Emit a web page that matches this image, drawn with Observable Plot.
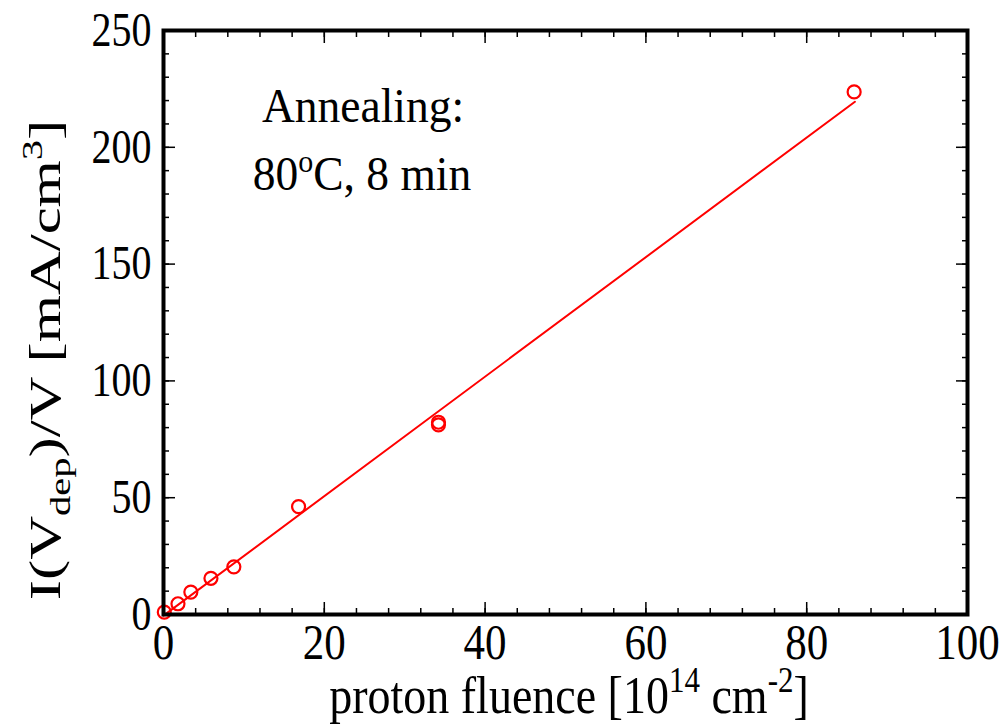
<!DOCTYPE html>
<html>
<head>
<meta charset="utf-8">
<script src="https://cdn.jsdelivr.net/npm/d3@7"></script>
<script src="https://cdn.jsdelivr.net/npm/@observablehq/plot@0.6"></script>
<style>
  html, body { margin: 0; padding: 0; background: white; }
  #chart { width: 1004px; height: 725px; }
</style>
</head>
<body>
<div id="chart"></div>
<script>
// Measured points
const fluence = [0.1, 1.8, 3.4, 5.9, 8.75, 16.8, 34.2, 34.2, 85.9];
const current = [1.0, 4.6, 9.6, 15.5, 20.4, 46.2, 82.3, 81.2, 223.7];
// Linear fit line endpoints
const fitFluence = [0, 86];
const fitCurrent = [-0.5, 219.5];
// Tick labels
const xTicks = [0, 20, 40, 60, 80, 100];
const yTicks = [0, 50, 100, 150, 200, 250];
const xMinorTicks = d3.range(0, 101, 4);
const yMinorTicks = d3.range(0, 251, 10);

const points = fluence.map((f, i) => ({f, c: current[i]}));
const fit = fitFluence.map((f, i) => ({f, c: fitCurrent[i]}));

const font = "'Liberation Serif', 'Times New Roman', serif";

const tickAxes = [];
for (const anchor of ["bottom", "top"]) {
  tickAxes.push(Plot.axisX({anchor, ticks: xMinorTicks, tickSize: -6, tickFormat: () => "", label: null, strokeWidth: 1.5}));
  tickAxes.push(Plot.axisX({anchor, ticks: xTicks, tickSize: -12, tickFormat: () => "", label: null, strokeWidth: 1.5}));
}
for (const anchor of ["left", "right"]) {
  tickAxes.push(Plot.axisY({anchor, ticks: yMinorTicks, tickSize: -6, tickFormat: () => "", label: null, strokeWidth: 1.5}));
  tickAxes.push(Plot.axisY({anchor, ticks: yTicks, tickSize: -12, tickFormat: () => "", label: null, strokeWidth: 1.5}));
}

const chart = Plot.plot({
  width: 1004,
  height: 725,
  marginLeft: 163,
  marginRight: 37,
  marginTop: 30,
  marginBottom: 111,
  style: {fontFamily: font, fontSize: "42px", color: "black", background: "white", overflow: "visible"},
  x: {domain: [0, 100]},
  y: {domain: [0, 250]},
  marks: [
    Plot.line(fit, {x: "f", y: "c", stroke: "#ff0000", strokeWidth: 2}),
    Plot.dot(points, {x: "f", y: "c", r: 6.5, stroke: "#ff0000", strokeWidth: 2.2, fill: "none"}),
    ...tickAxes,
    Plot.axisX({anchor: "bottom", ticks: xTicks, tickSize: 0, tickPadding: 8, label: null, fontSize: 43}),
    Plot.axisY({anchor: "left", ticks: yTicks, tickSize: 0, tickPadding: 12, label: null, fontSize: 40}),
    Plot.frame({stroke: "black", strokeWidth: 4})
  ]
});

document.getElementById("chart").appendChild(chart);

const svg = d3.select(chart);

// stretch tick labels vertically to match the reference's tall glyphs
svg.selectAll("g[aria-label='x-axis tick label'] text, g[aria-label='y-axis tick label'] text").each(function () {
  const t = d3.select(this);
  if (t.text() === "") return;
  const tr = t.attr("transform") || "";
  t.attr("transform", tr + " scale(1,1.2)");
});

function stretchedText(x, y, size, k, rotate) {
  return svg.append("text")
    .attr("transform", `translate(${x},${y}) scale(1,${k})` + (rotate ? " rotate(-90)" : ""))
    .attr("text-anchor", "middle")
    .attr("font-family", font).attr("font-size", size).attr("fill", "black");
}

// X axis title
const xt = stretchedText(569, 713, 46, 1.15, false);
xt.append("tspan").text("proton fluence [10");
xt.append("tspan").attr("dy", -18).attr("font-size", 31).text("14");
xt.append("tspan").attr("dy", 18).text(" cm");
xt.append("tspan").attr("dy", -18).attr("font-size", 31).text("-2");
xt.append("tspan").attr("dy", 18).text("]");

// Y axis title
const yt = stretchedText(60, 360, 45, 1.35, true);
yt.append("tspan").text("I(V");
yt.append("tspan").attr("dy", 10).attr("font-size", 30).text("dep");
yt.append("tspan").attr("dy", -10).text(")/V [mA/cm");
yt.append("tspan").attr("dy", -18).attr("font-size", 30).text("3");
yt.append("tspan").attr("dy", 18).text("]");

// Annotation
stretchedText(363, 122, 45.5, 1.05, false).text("Annealing:");
const a2 = stretchedText(362, 190, 45.5, 1.05, false);
a2.append("tspan").text("80");
a2.append("tspan").attr("dy", -17).attr("font-size", 30).text("o");
a2.append("tspan").attr("dy", 17).text("C, 8 min");
</script>
</body>
</html>
